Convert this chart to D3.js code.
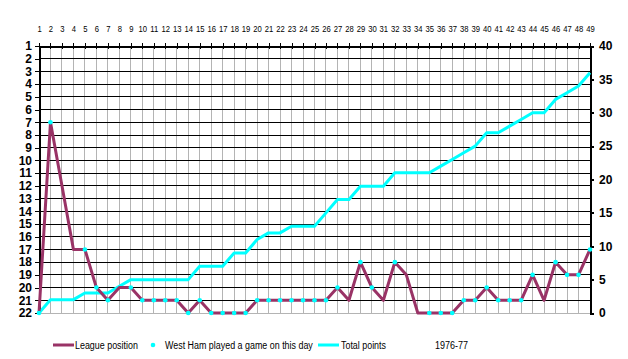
<!DOCTYPE html>
<html>
<head>
<meta charset="utf-8">
<script src="https://cdn.jsdelivr.net/npm/d3@7"></script>
<style>
  html, body { margin: 0; padding: 0; background: #fff; }
  svg { display: block; }
</style>
</head>
<body>
<svg id="chart" width="628" height="359"></svg>
<script>
// ---- data ----
const days = d3.range(1, 50);
const leaguePosition = [22,7,12,17,17,20,21,20,20,21,21,21,21,22,21,22,22,22,22,21,21,21,21,21,21,21,20,21,18,20,21,18,19,22,22,22,22,21,21,20,21,21,21,19,21,18,19,19,17];
const totalPoints = [0,2,2,2,3,3,3,4,5,5,5,5,5,5,7,7,7,9,9,11,12,12,13,13,13,15,17,17,19,19,19,21,21,21,21,22,23,24,25,27,27,28,29,30,30,32,33,34,36];
const gameDays = [1,2,5,6,7,9,10,11,12,13,14,15,16,17,18,19,20,21,22,23,24,25,26,27,29,30,32,35,36,37,38,39,40,41,42,43,44,46,47,48,49];
const positionTicks = d3.range(1, 23);
const pointTicks = [0,5,10,15,20,25,30,35,40];
const legendItems = ["League position", "West Ham played a game on this day", "Total points"];
const seasonLabel = "1976-77";

// ---- layout ----
const L = 39, R = 590, T = 46, B = 313;
const PLUM = "#993366", CYAN = "#00FFFF";
const FONT = "'Liberation Sans', Arial, sans-serif";
const svg = d3.select("#chart");

const x = d3.scaleLinear().domain([1, 49]).range([L, R]);
const yPos = d3.scaleLinear().domain([1, 22]).range([T, B]);
const yPts = d3.scaleLinear().domain([0, 40]).range([B, T]);

// vertical gray gridlines
svg.append("g").selectAll("line").data(days).join("line")
  .attr("x1", d => x(d)).attr("x2", d => x(d))
  .attr("y1", T).attr("y2", B)
  .attr("stroke", "#b4b4b4").attr("stroke-width", 1).attr("shape-rendering", "crispEdges");

// horizontal black gridlines
svg.append("g").selectAll("line").data(positionTicks.slice(0, -1)).join("line")
  .attr("x1", L).attr("x2", R)
  .attr("y1", d => yPos(d)).attr("y2", d => yPos(d))
  .attr("stroke", "#000").attr("stroke-width", 1).attr("shape-rendering", "crispEdges");
// bottom border
svg.append("line").attr("x1", L).attr("x2", R).attr("y1", B).attr("y2", B)
  .attr("stroke", "#b4b4b4").attr("shape-rendering", "crispEdges");

// top axis (categories)
const topAxis = d3.axisTop(x).tickValues(days).tickFormat(d3.format("d")).tickSize(3).tickSizeOuter(0);
const gTop = svg.append("g").attr("transform", `translate(0,${T})`).call(topAxis);
gTop.select(".domain").attr("stroke", "#000").attr("stroke-width", 2);
gTop.selectAll(".tick line").attr("y2", -3).attr("y1", 3).attr("stroke", "#000");
gTop.selectAll(".tick text")
  .attr("y", 0)
  .attr("font-family", FONT)
  .attr("font-size", 9).attr("fill", "#000")
  .attr("transform", "translate(0,-14) scale(0.85,1)");

// left axis (league position)
const leftAxis = d3.axisLeft(yPos).tickValues(positionTicks).tickFormat(d3.format("d")).tickSize(4).tickSizeOuter(0);
const gLeft = svg.append("g").attr("transform", `translate(${L},0)`).call(leftAxis);
gLeft.select(".domain").attr("stroke", "#000").attr("stroke-width", 2);
gLeft.selectAll(".tick line").attr("stroke", "#000").attr("stroke-width", 1);
gLeft.selectAll(".tick text")
  .attr("x", -7)
  .attr("font-family", FONT)
  .attr("font-weight", "bold").attr("font-size", 12).attr("fill", "#000");

// right axis (points)
const rightAxis = d3.axisRight(yPts).tickValues(pointTicks).tickFormat(d3.format("d")).tickSize(4).tickSizeOuter(0);
const gRight = svg.append("g").attr("transform", `translate(${R},0)`).call(rightAxis);
gRight.select(".domain").attr("stroke", "#000").attr("stroke-width", 2);
gRight.selectAll(".tick line").attr("stroke", "#000").attr("stroke-width", 2);
gRight.selectAll(".tick text")
  .attr("x", 9)
  .attr("font-family", FONT)
  .attr("font-weight", "bold").attr("font-size", 12).attr("fill", "#000");

svg.selectAll(".domain, .tick line").attr("shape-rendering", "crispEdges");

// total points line
svg.append("path")
  .datum(days.map((d, i) => [d, totalPoints[i]]))
  .attr("fill", "none").attr("stroke", CYAN).attr("stroke-width", 3).attr("stroke-linejoin", "round")
  .attr("d", d3.line().x(d => x(d[0])).y(d => yPts(d[1])));

// league position line
svg.append("path")
  .datum(days.map((d, i) => [d, leaguePosition[i]]))
  .attr("fill", "none").attr("stroke", PLUM).attr("stroke-width", 3).attr("stroke-linejoin", "round")
  .attr("d", d3.line().x(d => x(d[0])).y(d => yPos(d[1])));

// game-day markers
svg.append("g").selectAll("circle").data(gameDays).join("circle")
  .attr("cx", d => x(d)).attr("cy", d => yPos(leaguePosition[d - 1]))
  .attr("r", 2.3).attr("fill", CYAN);

// legend
const lg = svg.append("g");
const ly = 345;
function legendText(xp, txt, w) {
  const t = lg.append("text").attr("x", 0).attr("y", 0).text(txt)
    .attr("font-family", FONT).attr("font-size", 11).attr("fill", "#000");
  const natural = t.node().getComputedTextLength();
  const sx = natural > 0 ? w / natural : 1;
  t.attr("transform", `translate(${xp},${ly + 4}) scale(${sx},1)`);
}
lg.append("line").attr("x1", 53).attr("x2", 74).attr("y1", ly).attr("y2", ly).attr("stroke", PLUM).attr("stroke-width", 3);
legendText(75, legendItems[0], 63);
lg.append("circle").attr("cx", 153).attr("cy", ly).attr("r", 2.3).attr("fill", CYAN);
legendText(165, legendItems[1], 148);
lg.append("line").attr("x1", 318).attr("x2", 339).attr("y1", ly).attr("y2", ly).attr("stroke", CYAN).attr("stroke-width", 3);
legendText(341, legendItems[2], 45);
legendText(435, seasonLabel, 33);
</script>
</body>
</html>
